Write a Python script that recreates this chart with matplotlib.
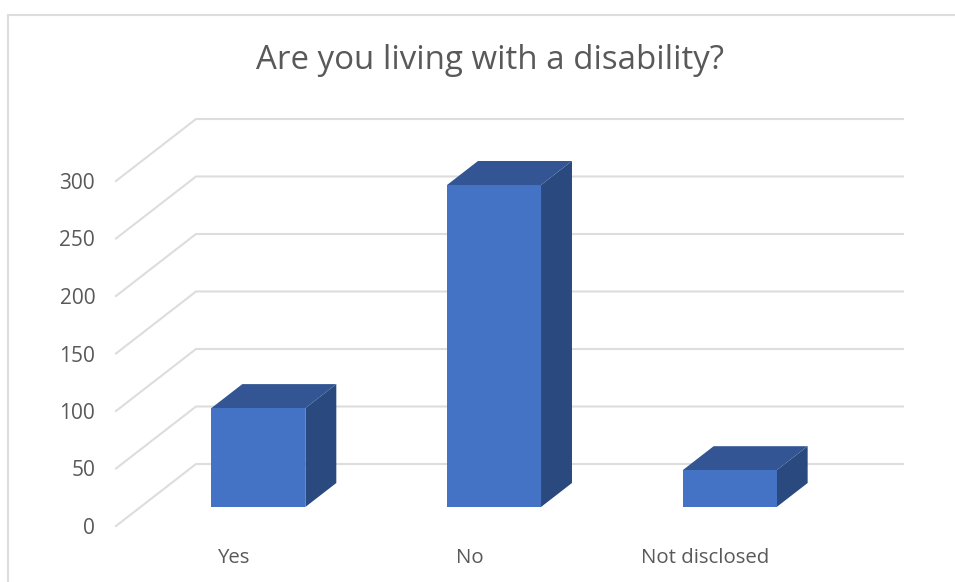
import matplotlib
matplotlib.use("Agg")
import matplotlib.pyplot as plt
from matplotlib.lines import Line2D
from matplotlib.patches import Polygon

plt.rcParams['font.family'] = ['Open Sans', 'DejaVu Sans']

categories = ["Yes", "No", "Not disclosed"]
values = [86, 280, 32]
y_ticks = [0, 50, 100, 150, 200, 250, 300]
title = "Are you living with a disability?"

W, H = 955, 582
GRID = "#DDDDDD"
TEXT = "#595959"
FRONT = "#4472C4"
TOP = "#335593"
SIDE = "#2A4A7F"

fig = plt.figure(figsize=(W / 100, H / 100), dpi=100, facecolor="white")
# The axes box is the front plane of the 3D chart
left, right, bottom, top = 116, 823, 526, 181
ax = fig.add_axes([left / W, 1 - bottom / H, (right - left) / W, (bottom - top) / H])
ax.set_xlim(-0.5, 2.5)
ax.set_ylim(0, 300)
ax.patch.set_visible(False)
for s in ax.spines.values():
    s.set_visible(False)

xscale = (right - left) / 3
yscale = (bottom - top) / 300
depth_x = 80 / xscale
depth_y = 62 / yscale


def project(x, y, d):
    """Oblique projection: d=0 is the front plane, d=1 the back wall."""
    return x + d * depth_x, y + d * depth_y


# Gridlines: floor/side wall diagonal, then back wall
x_end = 2.5 + 80 / xscale
for v in y_ticks:
    a = project(-0.5, v, 0)
    b = project(-0.5, v, 1)
    ax.plot([a[0], b[0], x_end], [a[1], b[1], b[1]], color=GRID, lw=1.5,
            clip_on=False, zorder=1, solid_joinstyle="miter")

# Bars
half = 47 / xscale
d0 = 19 / 62
d1 = 43 / 62
for i, v in enumerate(values):
    fbl = project(i - half, 0, d0)
    fbr = project(i + half, 0, d0)
    ftr = project(i + half, v, d0)
    ftl = project(i - half, v, d0)
    bbr = project(i + half, 0, d1)
    btr = project(i + half, v, d1)
    btl = project(i - half, v, d1)
    ax.add_patch(Polygon([fbr, bbr, btr, ftr], closed=True, fc=SIDE, ec="none", zorder=3, clip_on=False))
    ax.add_patch(Polygon([ftl, ftr, btr, btl], closed=True, fc=TOP, ec="none", zorder=3, clip_on=False))
    ax.add_patch(Polygon([fbl, fbr, ftr, ftl], closed=True, fc=FRONT, ec="none", zorder=4, clip_on=False))

ax.set_xticks(range(len(categories)))
ax.set_xticklabels(categories)
ax.set_yticks(y_ticks)
ax.tick_params(axis="x", length=0, pad=16, labelsize=14.7, labelcolor=TEXT)
ax.tick_params(axis="y", length=0, pad=15, labelsize=15, labelcolor=TEXT)

fig.text(489.5 / W, 1 - 60.5 / H, title, ha="center", va="center", fontsize=23.8, color=TEXT)

# Chart frame (left and top edges only are in view)
fig.add_artist(Line2D([8 / W, 8 / W, 1], [0, 1 - 15 / H, 1 - 15 / H], color=GRID, lw=1.5,
                      transform=fig.transFigure, solid_joinstyle="miter"))

fig.savefig("out.png", dpi=100, facecolor="white")
